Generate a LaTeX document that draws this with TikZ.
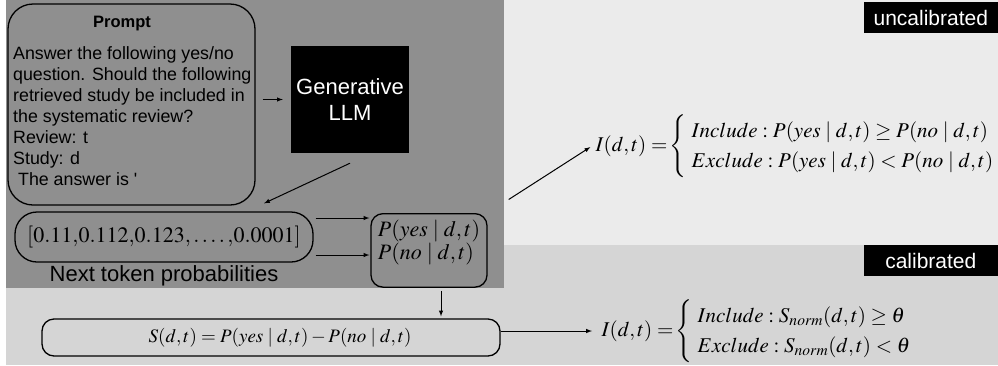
\documentclass[tikz,border=0pt]{standalone}
\usepackage{mathptmx}
\usepackage[no-math]{fontspec}
\setmainfont{Liberation Sans}
\usepackage{tikz}
\usetikzlibrary{positioning}
\usetikzlibrary{arrows,shapes}
\usetikzlibrary{calc}
\definecolor{paneldark}{RGB}{143,143,143}
\definecolor{panellight}{RGB}{235,235,235}
\definecolor{panelmid}{RGB}{213,213,213}
\tikzstyle{roundbox}=[draw,line width=1.3pt,inner sep=3pt]
\tikzstyle{flow} = [draw,line width=1pt,->]
\tikzstyle{promptline}=[anchor=base west,inner sep=0pt,font=\fontsize{17.8}{21}\selectfont]
\tikzstyle{llmbox}=[fill=black,text=white,align=center,minimum width=118pt,minimum height=107pt,font=\fontsize{22}{26}\selectfont]
\tikzstyle{mathtext}=[font=\fontsize{22}{23}\selectfont]
\tikzstyle{formula}=[anchor=west,font=\fontsize{21}{30}\selectfont]
\tikzstyle{tag}=[fill=black,text=white,anchor=north east,minimum width=134pt,minimum height=31pt,font=\fontsize{21}{25}\selectfont]

\begin{document}
\begin{tikzpicture}[x=1pt, y=1pt, >=latex]
    \useasboundingbox (0,0) rectangle (998,-365);
    % Background panels first
    \fill[panellight] (504,0) rectangle (998,-245);
    \fill[panelmid] (6,-245) rectangle (998,-365);
    \fill[paneldark] (6,0) rectangle (504,-288);

    % The prompt and its lines
    \node[roundbox, rounded corners=25pt, minimum width=247pt, minimum height=201pt] (prompt) at (131.5,-104.5) {};
    \node[anchor=base, font=\bfseries\fontsize{16.5}{20}\selectfont] (prompttitle) at (122,-27) {Prompt};
    \foreach \y/\name/\label in {59/pl1/{Answer the following yes/no}, 80/pl2/{question. Should the following}, 101/pl3/{retrieved study be included in}, 122/pl4/{the systematic review?}, 143/pl5/{Review: t}, 164/pl6/{Study: d}, 185/pl7/{\ The answer is \textquotesingle}}
        \node[promptline] (\name) at (13,-\y) {\label};

    % The model
    \node[llmbox] (llm) at (350,-99.5) {Generative\\LLM};

    % Next token probabilities
    \node[roundbox, rounded corners=22pt, minimum width=298pt, minimum height=50pt, mathtext] (probs) at (164,-237) {$[0.11{,}0.112{,}0.123{,}\ldots.\,{,}0.0001]$};
    \node[below=3pt of probs, inner sep=0pt, font=\fontsize{22}{26}\selectfont] (probslabel) {Next token probabilities};
    \node[roundbox, rounded corners=12pt, mathtext, align=left, minimum width=116pt, inner ysep=6pt, text depth=22pt] (pbox) at (429,-213) [anchor=north] {$P(yes \mid d,t)$\\$P(no \mid d,t)$};

    % Score
    \node[roundbox, rounded corners=12pt, minimum width=458pt, minimum height=37pt, font=\fontsize{19}{24}\selectfont] (sbox) at (271,-337.5) {\hspace{18pt}$S(d,t) = P(yes \mid d,t) - P(no \mid d,t)$};

    % Decisions
    \node[formula] (iuncal) at (592,-146) {$I(d,t) =\!\left\{ \begin{array}{l} Include : P(yes \mid d,t) \geq P(no \mid d,t)\\ Exclude : P(yes \mid d,t) < P(no \mid d,t)\end{array}\right.$};
    \node[formula] (ical) at (598,-331) {$I(d,t) =\!\left\{ \begin{array}{l} Include : S_{norm}(d,t) \geq \theta\\ Exclude : S_{norm}(d,t) < \theta\end{array}\right.$};

    \node[tag] (uncal) at (998,-2) {uncalibrated};
    \node[tag] (cal) at (998,-245) {calibrated};

    % Connect them with arrows
    \draw[flow, shorten <=7pt, shorten >=8pt] (prompt.east |- llm.west) -- (llm.west);
    \draw[flow] ([yshift=-10pt]llm.south) -- ([xshift=100pt,yshift=8pt]probs.north);
    \foreach \dy in {19,-18}
        \draw[flow, shorten <=2pt, shorten >=1pt] ([yshift=\dy pt]probs.east) -- ([yshift=\dy pt]probs.east -| pbox.west);
    \draw[flow, shorten <=3pt, shorten >=2pt] ([xshift=12pt]pbox.south) -- ([xshift=12pt]pbox.south |- sbox.north);
    \draw[flow, shorten >=6pt] (sbox.east |- ical.west) -- (ical.west);
    \draw[flow, shorten <=25pt, shorten >=2pt] (pbox.north east) -- (iuncal.west);
\end{tikzpicture}
\end{document}
